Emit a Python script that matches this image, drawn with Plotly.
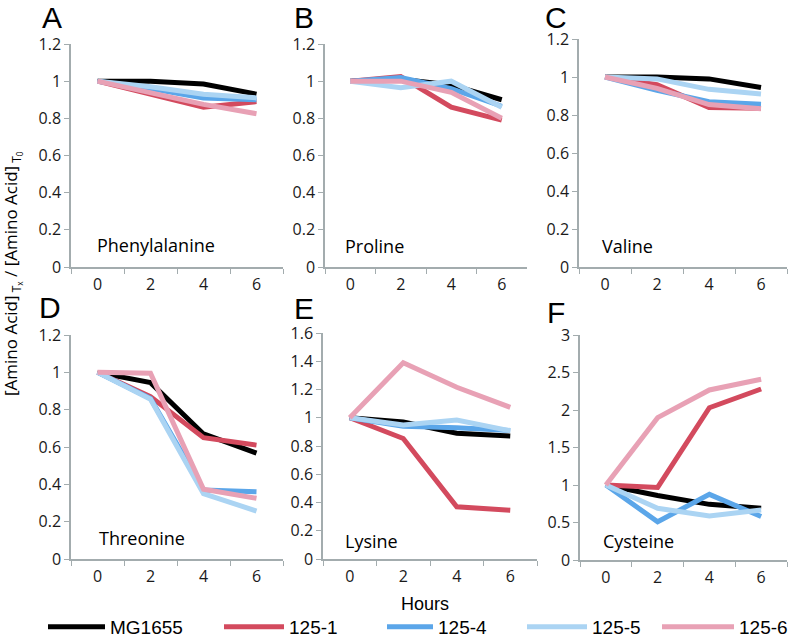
import plotly.graph_objects as go

# sampling times (hours)
hours = [0, 2, 4, 6]
strains = ["MG1655", "125-1", "125-4", "125-5", "125-6"]
colors = ["#000000", "#d34a5e", "#5ba6e9", "#abd4f3", "#e8a1b5"]

# [amino acid]Tx / [amino acid]T0, one list per strain (order as in strains)
phenylalanine = [
    [1.0, 1.0, 0.985, 0.93],
    [1.0, 0.93, 0.86, 0.89],
    [1.0, 0.96, 0.91, 0.90],
    [1.0, 0.97, 0.93, 0.91],
    [1.0, 0.94, 0.875, 0.825],
]
proline = [
    [1.0, 1.01, 0.98, 0.90],
    [1.0, 1.025, 0.86, 0.79],
    [1.0, 1.02, 0.96, 0.865],
    [1.0, 0.965, 1.0, 0.86],
    [1.0, 1.0, 0.94, 0.80],
]
valine = [
    [1.0, 1.0, 0.99, 0.945],
    [1.0, 0.96, 0.84, 0.835],
    [1.0, 0.93, 0.87, 0.857],
    [1.0, 0.99, 0.935, 0.91],
    [1.0, 0.94, 0.855, 0.833],
]
threonine = [
    [1.0, 0.945, 0.67, 0.567],
    [1.0, 0.87, 0.65, 0.61],
    [1.0, 0.86, 0.37, 0.36],
    [1.0, 0.856, 0.35, 0.257],
    [1.0, 0.995, 0.374, 0.325],
]
lysine = [
    [1.0, 0.97, 0.89, 0.87],
    [1.0, 0.853, 0.37, 0.345],
    [1.0, 0.94, 0.93, 0.91],
    [1.0, 0.948, 0.984, 0.908],
    [1.0, 1.39, 1.216, 1.074],
]
cysteine = [
    [1.0, 0.86, 0.742, 0.69],
    [1.0, 0.968, 2.03, 2.28],
    [1.0, 0.51, 0.875, 0.58],
    [1.0, 0.69, 0.587, 0.667],
    [1.0, 1.898, 2.267, 2.41],
]

panel_names = ["Phenylalanine", "Proline", "Valine", "Threonine", "Lysine", "Cysteine"]
panel_letters = ["A", "B", "C", "D", "E", "F"]
panel_data = [phenylalanine, proline, valine, threonine, lysine, cysteine]
y_max = [1.2, 1.2, 1.2, 1.2, 1.6, 3]
y_step = [0.2, 0.2, 0.2, 0.2, 0.2, 0.5]

W, H = 800, 643
# pixel boxes of each plot area: (left, right, top, bottom)
boxes = [
    (71, 283, 44, 267), (325, 527, 44, 267), (579, 787, 39, 267),
    (71, 283, 335, 559), (323, 537, 333, 559), (580, 787, 335, 560),
]
letter_pos = [(52, 17), (304, 17), (556, 17), (50, 307), (304, 309), (556, 312)]
name_pos = [(95, 245), (343, 246), (600, 246), (97, 538), (343, 541), (601, 541)]

axis_gray = "#a3acae"
tick_font = dict(family="Open Sans", size=16, color="#1a1a1a")
legend_font = "Liberation Sans Narrow, Liberation Sans, Arial"

fig = go.Figure()
cats = [str(h) for h in hours]

for p, data in enumerate(panel_data):
    xa = "x" if p == 0 else f"x{p + 1}"
    ya = "y" if p == 0 else f"y{p + 1}"
    for s, vals in enumerate(data):
        fig.add_trace(go.Scatter(
            x=cats, y=vals, mode="lines", name=strains[s],
            line=dict(color=colors[s], width=5),
            xaxis=xa, yaxis=ya,
            showlegend=(p == 0),
            legend="legend" if s == 0 else f"legend{s + 1}",
        ))

    l, r, t, b = boxes[p]
    key = "" if p == 0 else str(p + 1)
    fig.layout[f"xaxis{key}"] = dict(
        domain=[l / W, r / W], anchor=ya, type="category",
        range=[-0.5, 3.5], tickson="boundaries", ticks="outside",
        ticklen=5, tickcolor=axis_gray, showline=True, linecolor=axis_gray,
        linewidth=1.5, showgrid=False, zeroline=False, tickfont=tick_font,
        ticklabelstandoff=2,
    )
    fig.layout[f"yaxis{key}"] = dict(
        domain=[1 - b / H, 1 - t / H], anchor=xa, range=[0, y_max[p]],
        dtick=y_step[p], tick0=0, ticks="outside", ticklen=5,
        tickcolor=axis_gray, showline=True, linecolor=axis_gray,
        linewidth=1.5, showgrid=False, zeroline=False, tickfont=tick_font,
    )

    lx, ly = letter_pos[p]
    fig.add_annotation(
        text=panel_letters[p], x=lx / W, y=1 - ly / H, xref="paper", yref="paper",
        showarrow=False, xanchor="center", yanchor="middle",
        font=dict(family="Liberation Sans", size=30, color="#000000"),
    )
    nx, ny = name_pos[p]
    fig.add_annotation(
        text=panel_names[p], x=nx / W, y=1 - ny / H, xref="paper", yref="paper",
        showarrow=False, xanchor="left", yanchor="middle",
        font=dict(family="Open Sans", size=18, color="#000000"),
    )

# y axis title shared by all panels
fig.add_annotation(
    text="[Amino Acid]<sub> T<sub>x</sub></sub> / [Amino Acid]<sub> T<sub>0</sub></sub>",
    x=12 / W, y=1 - 274 / H, xref="paper", yref="paper", textangle=-90,
    showarrow=False, xanchor="center", yanchor="middle",
    font=dict(family="Open Sans", size=17, color="#000000"),
)
fig.add_annotation(
    text="Hours", x=425 / W, y=1 - 604 / H, xref="paper", yref="paper",
    showarrow=False, xanchor="center", yanchor="middle",
    font=dict(family=legend_font, size=18, color="#000000"),
)

# one small legend per strain so each can sit where the original puts it
legend_x = [43, 219, 382, 522, 657]
legend_gap = [57, 60, 46, 60, 72]
for s in range(len(strains)):
    name = "legend" if s == 0 else f"legend{s + 1}"
    fig.layout[name] = dict(
        x=legend_x[s] / W, y=1 - 627 / H, xanchor="left", yanchor="middle",
        orientation="h", bgcolor="rgba(0,0,0,0)", itemwidth=legend_gap[s],
        font=dict(family=legend_font, size=19, color="#000000"),
    )

fig.update_layout(
    width=W, height=H,
    margin=dict(l=0, r=0, t=0, b=0, autoexpand=False),
    plot_bgcolor="white", paper_bgcolor="white",
)

# drop the page's default body margin so the figure sits at the window corner
fig.write_html(
    "out.html",
    config={"displayModeBar": False},
    post_script="document.body.style.margin='0';",
)
